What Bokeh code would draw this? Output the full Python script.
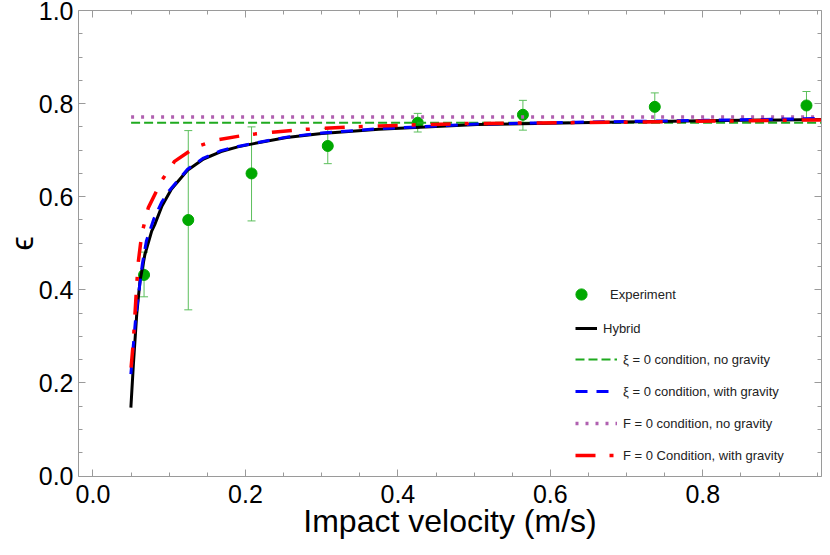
import numpy as np
from bokeh.plotting import figure
from bokeh.models import (Range1d, FixedTicker, LinearAxis, Legend, LegendItem,
                          Whisker, ColumnDataSource, TeeHead, NumeralTickFormatter)
from bokeh.embed import file_html
from bokeh.resources import INLINE

# ---------------- data ----------------
exp_v = [0.067, 0.125, 0.208, 0.308, 0.426, 0.564, 0.737, 0.936]
exp_eps = [0.432, 0.550, 0.650, 0.709, 0.759, 0.776, 0.793, 0.796]
exp_lo = [0.385, 0.357, 0.548, 0.671, 0.739, 0.743, 0.763, 0.766]
exp_hi = [0.481, 0.742, 0.750, 0.747, 0.779, 0.807, 0.823, 0.826]

hyb_v = [0.0497, 0.053, 0.0574, 0.0617, 0.068, 0.077, 0.081, 0.0905, 0.1028, 0.124,
         0.145, 0.168, 0.19, 0.211, 0.254, 0.30, 0.375, 0.504, 0.634, 0.80, 0.955]
hyb_eps = [0.147, 0.240, 0.348, 0.419, 0.475, 0.526, 0.540, 0.580, 0.616, 0.657,
           0.681, 0.697, 0.707, 0.714, 0.727, 0.736, 0.745, 0.755, 0.759, 0.763, 0.766]

xig_v = [0.0497, 0.056, 0.0647, 0.070, 0.080, 0.090, 0.100, 0.124, 0.145, 0.168,
         0.19, 0.211, 0.254, 0.30, 0.375, 0.504, 0.634, 0.80, 0.955]
xig_eps = [0.219, 0.340, 0.455, 0.505, 0.553, 0.588, 0.613, 0.659, 0.683, 0.699,
           0.708, 0.715, 0.728, 0.737, 0.746, 0.756, 0.760, 0.764, 0.768]

fg_v = [0.050, 0.053, 0.0574, 0.0596, 0.064, 0.0725, 0.0898, 0.107, 0.135, 0.163,
        0.202, 0.239, 0.271, 0.34, 0.414, 0.483, 0.552, 0.621, 0.69, 0.90, 0.955]
fg_eps = [0.233, 0.290, 0.412, 0.462, 0.520, 0.576, 0.634, 0.676, 0.707, 0.722,
          0.733, 0.739, 0.744, 0.750, 0.754, 0.757, 0.758, 0.759, 0.760, 0.764, 0.765]

flat_v = [0.05, 0.955]
xi_nograv_eps = [0.759, 0.759]
f_nograv_eps = [0.771, 0.771]

x_major = [0.0, 0.2, 0.4, 0.6, 0.8]
x_minor = [0.05, 0.1, 0.15, 0.25, 0.3, 0.35, 0.45, 0.5, 0.55, 0.65, 0.7, 0.75, 0.85, 0.9, 0.95]
y_major = [0.0, 0.2, 0.4, 0.6, 0.8, 1.0]
y_minor = [0.05, 0.1, 0.15, 0.25, 0.3, 0.35, 0.45, 0.5, 0.55, 0.65, 0.7, 0.75, 0.85, 0.9, 0.95]

x_title = "Impact velocity (m/s)"
y_title = "ϵ"

FONT = "Liberation Sans"
FRAME = "#9a9a9a"

X0, X1 = -0.019, 0.9557
Y0, Y1 = -0.001, 1.0

p = figure(width=822, height=547, output_backend="svg", toolbar_location=None,
           x_range=Range1d(X0, X1), y_range=Range1d(Y0, Y1),
           min_border_left=76, min_border_right=1, min_border_top=10, min_border_bottom=71)
p.grid.visible = False
p.outline_line_color = None
p.background_fill_color = "white"

fmt = NumeralTickFormatter(format="0.0")
p.xaxis.ticker = FixedTicker(ticks=x_major, minor_ticks=x_minor)
p.yaxis.ticker = FixedTicker(ticks=y_major, minor_ticks=y_minor)
p.xaxis.formatter = fmt
p.yaxis.formatter = fmt


def style(ax, labels=True):
    ax.axis_line_color = FRAME
    ax.major_tick_line_color = FRAME
    ax.minor_tick_line_color = FRAME
    ax.major_tick_in = 7
    ax.major_tick_out = 0
    ax.minor_tick_in = 4
    ax.minor_tick_out = 0
    ax.major_label_text_font = FONT
    ax.major_label_text_font_size = "25px"
    ax.major_label_text_color = "black"
    ax.axis_label_text_font = FONT
    ax.axis_label_text_font_size = "32px"
    ax.axis_label_text_font_style = "normal"
    ax.axis_label_text_color = "black"
    if not labels:
        ax.major_label_text_font_size = "0px"
        ax.major_label_standoff = 0


for ax in p.xaxis + p.yaxis:
    style(ax)
p.xaxis.major_label_standoff = 8
p.yaxis.major_label_standoff = 5

p.xaxis.axis_label = x_title
p.xaxis.axis_label_standoff = -3
p.yaxis.axis_label = y_title
p.yaxis.axis_label_standoff = -4

top = LinearAxis(ticker=FixedTicker(ticks=x_major, minor_ticks=x_minor))
style(top, labels=False)
p.add_layout(top, "above")
right = LinearAxis(ticker=FixedTicker(ticks=y_major, minor_ticks=y_minor))
style(right, labels=False)
p.add_layout(right, "right")

# ---------------- experiment ----------------
src = ColumnDataSource(dict(v=exp_v, eps=exp_eps, lo=exp_lo, hi=exp_hi))
ebc = "#5cbf5c"
p.add_layout(Whisker(base="v", lower="lo", upper="hi", source=src, line_color=ebc, line_width=1,
                     upper_head=TeeHead(size=8, line_color=ebc, line_width=1),
                     lower_head=TeeHead(size=8, line_color=ebc, line_width=1)))
pts = p.scatter("v", "eps", source=src, size=11, color="#00a800")

# ---------------- model lines ----------------
r_xng = p.line(flat_v, xi_nograv_eps, line_color="#1faa1f", line_width=2, line_dash="9 4")
r_fng = p.line(flat_v, f_nograv_eps, line_color="#b060b0", line_width=3.5, line_dash="3 7")
r_hyb = p.line(hyb_v, hyb_eps, line_color="black", line_width=3)
r_xg = p.line(xig_v, xig_eps, line_color="#0000ff", line_width=3, line_dash="12 9")
r_fg = p.line(fg_v, fg_eps, line_color="#ff0000", line_width=3.5, line_dash="20 14 4 15")


def mk_legend(items, loc, gw, gh, standoff, spacing=12):
    lg = Legend(items=items, location=loc, padding=0, margin=0, spacing=spacing,
                glyph_width=gw, glyph_height=gh, label_standoff=standoff,
                label_text_font=FONT, label_text_font_size="13px", label_text_color="#222222",
                label_height=20, border_line_color=None, background_fill_alpha=0)
    p.add_layout(lg)


mk_legend([LegendItem(label="Experiment", renderers=[pts])], (489, 168), 28, 28, 15)
mk_legend([LegendItem(label="Hybrid", renderers=[r_hyb])], (497, 138), 22, 20, 6)
mk_legend([LegendItem(label="ξ = 0 condition, no gravity", renderers=[r_xng]),
           LegendItem(label="ξ = 0 condition, with gravity", renderers=[r_xg]),
           LegendItem(label="F = 0 condition, no gravity", renderers=[r_fng]),
           LegendItem(label="F = 0 Condition, with gravity", renderers=[r_fg])],
          (497, 11), 42, 20, 6)

open("out.html", "w").write(file_html(p, INLINE))
